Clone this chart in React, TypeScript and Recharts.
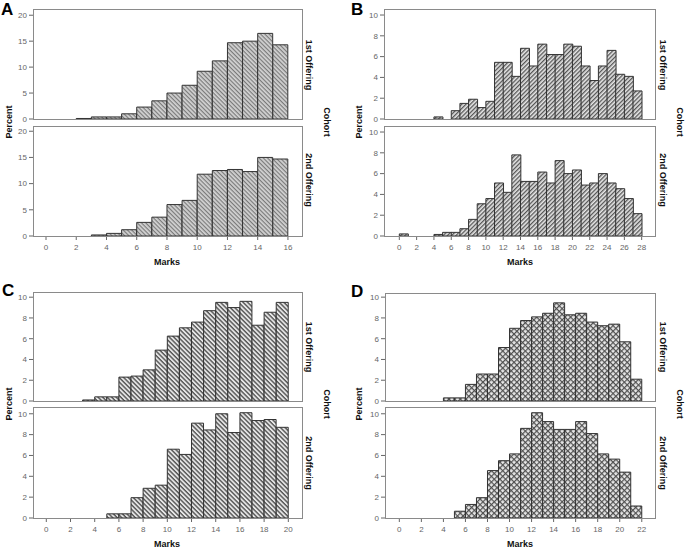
import React from 'react';
import { BarChart, Bar, XAxis, YAxis } from 'recharts';

// Panel A (marks 0-16)
const aBins = [0, 1, 2, 3, 4, 5, 6, 7, 8, 9, 10, 11, 12, 13, 14, 15];
const aFirst = [0, 0, 0.1, 0.4, 0.4, 1.0, 2.3, 3.5, 5.0, 6.5, 9.2, 11.2, 14.7, 15.0, 16.5, 14.3];
const aSecond = [0, 0, 0, 0.2, 0.5, 1.2, 2.6, 3.6, 6.0, 6.8, 11.8, 12.5, 12.7, 12.3, 15.0, 14.7];
const aTicks = [0, 2, 4, 6, 8, 10, 12, 14, 16];
const aYTicks = [0, 5, 10, 15, 20];

// Panel B (marks 0-28)
const bBins = [0, 1, 2, 3, 4, 5, 6, 7, 8, 9, 10, 11, 12, 13, 14, 15, 16, 17, 18, 19, 20, 21, 22, 23, 24, 25, 26, 27];
const bFirst = [0, 0, 0, 0, 0.2, 0, 0.8, 1.5, 1.9, 1.1, 1.7, 5.45, 5.45, 4.1, 6.8, 5.1, 7.2, 6.2, 6.2, 7.2, 7.0, 5.1, 3.7, 5.1, 6.6, 4.3, 4.1, 2.7];
const bSecond = [0.2, 0, 0, 0, 0.15, 0.35, 0.35, 0.7, 1.6, 3.1, 3.6, 5.1, 4.2, 7.8, 5.25, 5.25, 6.15, 5.1, 7.25, 6.0, 6.35, 4.9, 5.1, 6.0, 5.1, 4.55, 3.6, 2.15];
const bTicks = [0, 2, 4, 6, 8, 10, 12, 14, 16, 18, 20, 22, 24, 26, 28];

// Panel C (marks 0-20)
const cBins = [0, 1, 2, 3, 4, 5, 6, 7, 8, 9, 10, 11, 12, 13, 14, 15, 16, 17, 18, 19];
const cFirst = [0, 0, 0, 0.1, 0.4, 0.4, 2.3, 2.4, 3.0, 4.9, 6.25, 7.05, 7.6, 8.7, 9.5, 9.0, 9.6, 7.3, 8.55, 9.5];
const cSecond = [0, 0, 0, 0, 0, 0.4, 0.4, 1.95, 2.85, 3.15, 6.6, 6.1, 9.1, 8.45, 10.0, 8.2, 10.1, 9.35, 9.45, 8.7];
const cTicks = [0, 2, 4, 6, 8, 10, 12, 14, 16, 18, 20];

// Panel D (marks 0-22)
const dBins = [0, 1, 2, 3, 4, 5, 6, 7, 8, 9, 10, 11, 12, 13, 14, 15, 16, 17, 18, 19, 20, 21];
const dFirst = [0, 0, 0, 0, 0.3, 0.3, 1.6, 2.6, 2.6, 5.15, 7.0, 7.75, 8.1, 8.45, 9.45, 8.3, 8.45, 7.6, 7.25, 7.4, 5.7, 2.1];
const dSecond = [0, 0, 0, 0, 0, 0.65, 1.3, 1.95, 4.55, 5.5, 6.15, 8.6, 10.1, 9.25, 8.5, 8.5, 9.25, 8.1, 6.15, 5.65, 4.4, 1.15];
const dTicks = [0, 2, 4, 6, 8, 10, 12, 14, 16, 18, 20, 22];

const pctTicks10 = [0, 2, 4, 6, 8, 10];

const FONT = '"Liberation Sans", Arial, sans-serif';
const BOX = '#8a8a8a';
const TICK = '#666';

type Box = { x1: number; x2: number; y1: number; y2: number };

function Hist(props: {
  bins: number[];
  values: number[];
  box: Box;
  xDomain: [number, number];
  xTicks: number[];
  yMax: number;
  yTicks: number[];
  showX: boolean;
  pattern: string;
}) {
  const { bins, values, box, xDomain, xTicks, yMax, yTicks, showX, pattern } = props;
  const data = bins.map((b, i) => ({ mid: b + 0.5, v: values[i] }));
  const yw = 35;
  const mt = 5;
  const mr = 2;
  const xh = showX ? 22 : 0;
  const mb = showX ? 0 : 6;
  const w = box.x2 - box.x1 + yw + mr;
  const h = box.y2 - box.y1 + mt + xh + mb;
  return (
    <div style={{ position: 'absolute', left: box.x1 - yw, top: box.y1 - mt }}>
      <BarChart
        width={w}
        height={h}
        data={data}
        margin={{ top: mt, right: mr, bottom: mb, left: 0 }}
        barCategoryGap={0}
        barGap={0}
      >
        <XAxis
          type="number"
          dataKey="mid"
          domain={xDomain}
          ticks={xTicks}
          allowDataOverflow
          hide={!showX}
          height={showX ? xh : 20}
          axisLine={false}
          tickLine={{ stroke: TICK }}
          tickSize={4}
          tickMargin={4}
          interval={0}
          tick={{ fontSize: 8, fill: TICK, fontFamily: FONT }}
        />
        <YAxis
          type="number"
          domain={[0, yMax]}
          ticks={yTicks}
          allowDataOverflow
          width={yw}
          axisLine={false}
          tickLine={{ stroke: TICK }}
          tickSize={4}
          tickMargin={2}
          interval={0}
          tick={{ fontSize: 8, fill: TICK, fontFamily: FONT }}
        />
        <Bar dataKey="v" fill={`url(#${pattern})`} stroke="#333" strokeWidth={1} isAnimationActive={false} />
      </BarChart>
    </div>
  );
}

const boxes = {
  aTop: { x1: 33, x2: 302, y1: 9, y2: 119 },
  aBot: { x1: 33, x2: 302, y1: 126, y2: 236 },
  bTop: { x1: 384, x2: 655, y1: 9, y2: 119 },
  bBot: { x1: 384, x2: 655, y1: 126, y2: 236 },
  cTop: { x1: 33, x2: 302, y1: 292, y2: 401 },
  cBot: { x1: 33, x2: 302, y1: 407, y2: 518 },
  dTop: { x1: 385, x2: 655, y1: 293, y2: 401 },
  dBot: { x1: 385, x2: 655, y1: 407, y2: 518 },
};

function Labels() {
  const lbl = { fontFamily: FONT, fontSize: 9, fontWeight: 700, fill: '#111' } as const;
  const letter = { fontFamily: FONT, fontSize: 17, fontWeight: 700, fill: '#000' } as const;
  const rot = (x: number, y: number, a: number) => `rotate(${a} ${x} ${y})`;
  const groups = [
    { L: 'A', lx: 1, ly: 15, px: 9, py: 122, ox: 309, o1: 65, o2: 180, cx: 327, cy: 122, mx: 167, my: 266 },
    { L: 'B', lx: 351, ly: 15, px: 359, py: 122, ox: 663, o1: 65, o2: 180, cx: 680, cy: 122, mx: 520, my: 266 },
    { L: 'C', lx: 2, ly: 296, px: 9, py: 404, ox: 309, o1: 347, o2: 463, cx: 327, cy: 404, mx: 167, my: 548 },
    { L: 'D', lx: 351, ly: 297, px: 359, py: 404, ox: 663, o1: 347, o2: 463, cx: 680, cy: 404, mx: 520, my: 548 },
  ];
  return (
    <svg width={685} height={549} style={{ position: 'absolute', left: 0, top: 0, pointerEvents: 'none' }}>
      {Object.values(boxes).map((b, i) => (
        <rect key={i} x={b.x1 + 0.5} y={b.y1 + 0.5} width={b.x2 - b.x1} height={b.y2 - b.y1} fill="none" stroke={BOX} strokeWidth={1} />
      ))}
      {groups.map((g) => (
        <g key={g.L}>
          <text x={g.lx} y={g.ly} style={letter}>{g.L}</text>
          <text x={g.px} y={g.py} textAnchor="middle" dominantBaseline="central" transform={rot(g.px, g.py, -90)} style={lbl}>Percent</text>
          <text x={g.ox} y={g.o1} textAnchor="middle" dominantBaseline="central" transform={rot(g.ox, g.o1, 90)} style={lbl}>1st Offering</text>
          <text x={g.ox} y={g.o2} textAnchor="middle" dominantBaseline="central" transform={rot(g.ox, g.o2, 90)} style={lbl}>2nd Offering</text>
          <text x={g.cx} y={g.cy} textAnchor="middle" dominantBaseline="central" transform={rot(g.cx, g.cy, 90)} style={lbl}>Cohort</text>
          <text x={g.mx} y={g.my - 1} textAnchor="middle" style={lbl}>Marks</text>
        </g>
      ))}
    </svg>
  );
}

function Patterns() {
  return (
    <svg width={0} height={0} style={{ position: 'absolute' }}>
      <defs>
        <pattern id="patA" width={3} height={3} patternUnits="userSpaceOnUse" patternTransform="rotate(45)">
          <rect width={3} height={3} fill="#d4d4d4" />
          <rect width={3} height={1.2} fill="#7a7a7a" />
        </pattern>
        <pattern id="patB" width={3} height={3} patternUnits="userSpaceOnUse" patternTransform="rotate(-45)">
          <rect width={3} height={3} fill="#e6e6e6" />
          <rect width={3} height={1.3} fill="#555" />
        </pattern>
        <pattern id="patC" width={3.2} height={3.2} patternUnits="userSpaceOnUse" patternTransform="rotate(45)">
          <rect width={3.2} height={3.2} fill="#e6e6e6" />
          <rect width={3.2} height={1.4} fill="#555" />
        </pattern>
        <pattern id="patD" width={4} height={4} patternUnits="userSpaceOnUse" patternTransform="rotate(45)">
          <rect width={4} height={4} fill="#e8e8e8" />
          <rect width={4} height={1.2} fill="#505050" />
          <rect width={1.2} height={4} fill="#505050" />
        </pattern>
      </defs>
    </svg>
  );
}

export default function App() {
  return (
    <div style={{ position: 'absolute', left: 0, top: 0, width: 685, height: 549, background: '#fff', overflow: 'hidden' }}>
      <Patterns />
      <Hist bins={aBins} values={aFirst} box={boxes.aTop} xDomain={[-0.86, 16.93]} xTicks={aTicks} yMax={21.2} yTicks={aYTicks} showX={false} pattern="patA" />
      <Hist bins={aBins} values={aSecond} box={boxes.aBot} xDomain={[-0.86, 16.93]} xTicks={aTicks} yMax={21.0} yTicks={aYTicks} showX pattern="patA" />
      <Hist bins={bBins} values={bFirst} box={boxes.bTop} xDomain={[-1.77, 29.54]} xTicks={bTicks} yMax={10.58} yTicks={pctTicks10} showX={false} pattern="patB" />
      <Hist bins={bBins} values={bSecond} box={boxes.bBot} xDomain={[-1.77, 29.54]} xTicks={bTicks} yMax={10.58} yTicks={pctTicks10} showX pattern="patB" />
      <Hist bins={cBins} values={cFirst} box={boxes.cTop} xDomain={[-1.1, 21.13]} xTicks={cTicks} yMax={10.5} yTicks={pctTicks10} showX={false} pattern="patC" />
      <Hist bins={cBins} values={cSecond} box={boxes.cBot} xDomain={[-1.1, 21.13]} xTicks={cTicks} yMax={10.65} yTicks={pctTicks10} showX pattern="patC" />
      <Hist bins={dBins} values={dFirst} box={boxes.dTop} xDomain={[-1.3, 23.2]} xTicks={dTicks} yMax={10.4} yTicks={pctTicks10} showX={false} pattern="patD" />
      <Hist bins={dBins} values={dSecond} box={boxes.dBot} xDomain={[-1.3, 23.2]} xTicks={dTicks} yMax={10.65} yTicks={pctTicks10} showX pattern="patD" />
      <Labels />
    </div>
  );
}
